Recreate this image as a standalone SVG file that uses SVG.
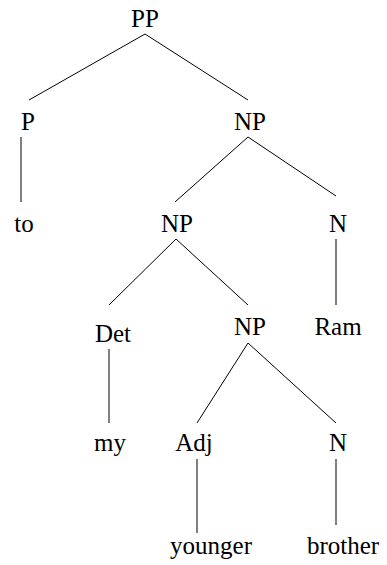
<svg xmlns="http://www.w3.org/2000/svg" width="387" height="565" viewBox="0 0 387 565">
<style>
text{font-family:"Liberation Serif","Times New Roman",serif;font-size:25px;fill:#000;text-anchor:middle}
.e line{stroke:#000;stroke-width:1}
</style>
<rect width="387" height="565" fill="#fff"/>
<g class="e" id="edges">
<line x1="145" y1="34" x2="29" y2="100"/>
<line x1="145" y1="34" x2="248" y2="100"/>
<line x1="21" y1="137" x2="21" y2="202"/>
<line x1="248" y1="137" x2="175" y2="202"/>
<line x1="248" y1="137" x2="336" y2="196"/>
<line x1="176" y1="239" x2="109" y2="305"/>
<line x1="176" y1="239" x2="248" y2="305"/>
<line x1="336" y1="239" x2="336" y2="305"/>
<line x1="109" y1="349" x2="109" y2="423"/>
<line x1="248" y1="343" x2="197" y2="423"/>
<line x1="248" y1="343" x2="336" y2="423"/>
<line x1="197" y1="459" x2="197" y2="533"/>
<line x1="336" y1="459" x2="336" y2="525"/>
</g>
<g id="n-PP"><text x="145" y="27">PP</text></g>
<g id="n-P"><text x="28" y="130">P</text></g>
<g id="n-NP1"><text x="250" y="130">NP</text></g>
<g id="n-to"><text x="24" y="232">to</text></g>
<g id="n-NP2"><text x="177" y="232">NP</text></g>
<g id="n-N1"><text x="338" y="232">N</text></g>
<g id="n-Det"><text x="113" y="342">Det</text></g>
<g id="n-NP3"><text x="250" y="335">NP</text></g>
<g id="n-Ram"><text x="338" y="335">Ram</text></g>
<g id="n-my"><text x="110" y="451">my</text></g>
<g id="n-Adj"><text x="194" y="451">Adj</text></g>
<g id="n-N2"><text x="338" y="451">N</text></g>
<g id="n-younger"><text x="211" y="554">younger</text></g>
<g id="n-brother"><text x="343" y="554">brother</text></g>
</svg>
